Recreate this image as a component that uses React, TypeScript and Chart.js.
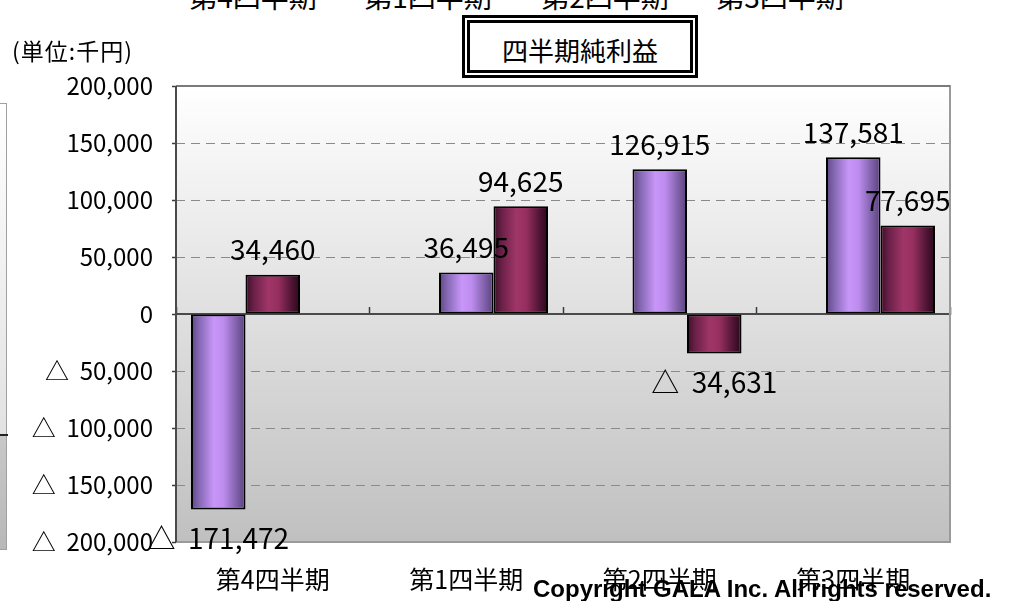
import { useEffect, useRef } from "react";
import { Chart, registerables } from "chart.js";

Chart.register(...registerables);

// ---- data ----
const categories = ["第4四半期", "第1四半期", "第2四半期", "第3四半期"];
const purpleValues = [-171472, 36495, 126915, 137581];
const maroonValues = [34460, 94625, -34631, 77695];
const yMin = -200000;
const yMax = 200000;
const yStep = 50000;
const topCutLabels = ["第4四半期", "第1四半期", "第2四半期", "第3四半期"];
const titleText = "四半期純利益";
const unitText = "(単位:千円)";
const copyrightText = "Copyright GALA Inc. All rights reserved.";

const JP = '"Noto Sans CJK JP", "Noto Sans", sans-serif';

const fmt = (n: number) => n.toLocaleString("en-US");
const signed = (n: number) => (n < 0 ? "△  " + fmt(-n) : fmt(n));

const purpleStops: [number, string][] = [
  [0, "#5e4680"],
  [0.15, "#8468b4"],
  [0.42, "#c896f8"],
  [0.6, "#bd8cee"],
  [0.85, "#7c5ea6"],
  [1, "#5a4278"],
];
const maroonStops: [number, string][] = [
  [0, "#3a0f26"],
  [0.15, "#6a2048"],
  [0.42, "#a03668"],
  [0.6, "#962f5f"],
  [0.85, "#4e1434"],
  [1, "#2a0818"],
];

const bgPlugin = {
  id: "plotBg",
  beforeDraw(chart: any) {
    const { ctx, chartArea: a } = chart;
    const g = ctx.createLinearGradient(0, a.top, 0, a.bottom);
    g.addColorStop(0, "#ffffff");
    g.addColorStop(1, "#c0c0c0");
    ctx.save();
    ctx.fillStyle = g;
    ctx.fillRect(a.left, a.top, a.right - a.left, a.bottom - a.top);
    ctx.restore();
  },
  beforeDatasetsDraw(chart: any) {
    const { ctx, chartArea: a } = chart;
    ctx.save();
    ctx.lineWidth = 2;
    ctx.strokeStyle = "#9a9a9a";
    ctx.beginPath();
    ctx.moveTo(a.left, a.top);
    ctx.lineTo(a.right, a.top);
    ctx.lineTo(a.right, a.bottom);
    ctx.lineTo(a.left, a.bottom);
    ctx.stroke();
    ctx.strokeStyle = "#7a7a7a";
    ctx.beginPath();
    ctx.moveTo(a.left, a.top);
    ctx.lineTo(a.right, a.top);
    ctx.stroke();
    ctx.strokeStyle = "#4a4a4a";
    ctx.beginPath();
    ctx.moveTo(a.left, a.top);
    ctx.lineTo(a.left, a.bottom);
    ctx.stroke();
    ctx.restore();
  },
};

const barPaintPlugin = {
  id: "barPaint",
  afterDatasetsDraw(chart: any) {
    const ctx = chart.ctx;
    const bw = 2;
    const labels: { text: string; x: number; y: number }[] = [];
    chart.data.datasets.forEach((ds: any, di: number) => {
      const meta = chart.getDatasetMeta(di);
      meta.data.forEach((el: any, i: number) => {
        const v = ds.data[i];
        if (v == null) return;
        const { x, y, base, width } = el.getProps(["x", "y", "base", "width"], true);
        const left = x - width / 2;
        const right = x + width / 2;
        const top = Math.min(y, base);
        const bottom = Math.max(y, base);
        const g = ctx.createLinearGradient(left, 0, right, 0);
        (ds.kind === "purple" ? purpleStops : maroonStops).forEach(([o, c]) => g.addColorStop(o, c));
        ctx.save();
        ctx.fillStyle = g;
        ctx.fillRect(left + bw, top + bw, width - 2 * bw, bottom - top - 2 * bw);
        ctx.restore();
        labels.push({ text: signed(v), x, y: v >= 0 ? y - 25 : y + 29 });
      });
    });
    ctx.save();
    ctx.font = `28px ${JP}`;
    ctx.fillStyle = "#000";
    ctx.textAlign = "center";
    ctx.textBaseline = "middle";
    labels.forEach((l) => ctx.fillText(l.text, l.x, l.y));
    ctx.restore();
  },
};

export default function App() {
  const ref = useRef<HTMLCanvasElement | null>(null);

  useEffect(() => {
    if (!ref.current) return;
    const pick = (arr: number[], keep: (i: number) => boolean) =>
      arr.map((v, i) => (keep(i) ? v : null));
    const common = {
      borderColor: "#000000",
      borderWidth: 2,
      borderSkipped: false,
      categoryPercentage: 0.845,
      barPercentage: 1,
    };
    const chart = new Chart(ref.current, {
      type: "bar",
      data: {
        labels: categories,
        datasets: [
          { ...common, label: "a0", kind: "purple", stack: "L", backgroundColor: "#a878d8", data: pick(purpleValues, (i) => i === 0) },
          { ...common, label: "a1", kind: "purple", stack: "C", backgroundColor: "#a878d8", data: pick(purpleValues, (i) => i !== 0) },
          { ...common, label: "b0", kind: "maroon", stack: "C", backgroundColor: "#802850", data: pick(maroonValues, (i) => i === 0) },
          { ...common, label: "b1", kind: "maroon", stack: "R", backgroundColor: "#802850", data: pick(maroonValues, (i) => i !== 0) },
        ] as any,
      },
      options: {
        responsive: false,
        animation: false,
        layout: { padding: { left: 0, right: 62, top: 86, bottom: 0 } },
        plugins: {
          legend: { display: false },
          tooltip: { enabled: false },
          title: { display: false },
        },
        scales: {
          x: {
            type: "category",
            position: "bottom",
            offset: true,
            grid: { display: false, drawTicks: false, tickLength: 0, offset: true },
            border: { display: false },
            ticks: {
              color: "#000",
              font: { size: 25, family: JP },
              padding: 22,
              maxRotation: 0,
              autoSkip: false,
            },
            afterFit: (s: any) => {
              s.height = 59;
            },
          },
          x2: {
            type: "category",
            axis: "x",
            position: { y: 0 },
            offset: true,
            grid: {
              display: true,
              drawOnChartArea: false,
              drawTicks: true,
              tickLength: -8,
              tickColor: "#3a3a3a",
              tickWidth: 1.5,
              offset: true,
            },
            border: { display: true, color: "#4a4a4a", width: 2 },
            ticks: { display: false },
          },
          y: {
            type: "linear",
            min: yMin,
            max: yMax,
            stacked: true,
            ticks: {
              stepSize: yStep,
              color: "#000",
              font: { size: 24, family: JP },
              padding: 19,
              callback: (v: any) => signed(Number(v)),
            },
            grid: {
              color: (c: any) => {
                const v = c.tick && c.tick.value;
                return v === 0 || v === yMax || v === yMin ? "rgba(0,0,0,0)" : "#8a8a8a";
              },
              lineWidth: 1,
              tickLength: 4,
              tickColor: "#3a3a3a",
              tickWidth: 1.5,
              borderDash: [9, 6],
            } as any,
            border: { display: false, dash: [9, 6] },
            afterFit: (s: any) => {
              s.width = 176;
            },
          },
        } as any,
      },
      plugins: [bgPlugin, barPaintPlugin],
    } as any);
    return () => chart.destroy();
  }, []);

  const topCenters = [253, 428, 605, 780];

  return (
    <div
      style={{
        position: "absolute",
        left: 0,
        top: 0,
        width: 1012,
        height: 601,
        overflow: "hidden",
        background: "#fff",
      }}
    >
      {topCutLabels.map((t, i) => (
        <div
          key={i}
          style={{
            position: "absolute",
            top: -18,
            left: topCenters[i] - 80,
            width: 160,
            textAlign: "center",
            fontFamily: JP,
            fontSize: 28,
            lineHeight: "28px",
            color: "#000",
            whiteSpace: "nowrap",
          }}
        >
          {t}
        </div>
      ))}
      <div
        style={{
          position: "absolute",
          left: 0,
          top: 103,
          width: 7,
          height: 447,
          boxSizing: "border-box",
          borderTop: "1px solid #a0a0a0",
          borderRight: "1px solid #a0a0a0",
          borderBottom: "1px solid #a0a0a0",
          background:
            "linear-gradient(to bottom, #ffffff 0%, #e2e2e2 74%, #c8c8c8 74.4%, #b8b8b8 100%)",
        }}
      />
      <div style={{ position: "absolute", left: 0, top: 434, width: 8, height: 2, background: "#222" }} />
      <canvas ref={ref} width={1012} height={601} style={{ position: "absolute", left: 0, top: 0, width: 1012, height: 601 }} />
      <div
        style={{
          position: "absolute",
          left: 12,
          top: 39,
          fontFamily: JP,
          fontSize: 23,
          lineHeight: "23px",
          letterSpacing: 1,
          color: "#000",
          whiteSpace: "nowrap",
        }}
      >
        {unitText}
      </div>
      <div
        style={{
          position: "absolute",
          left: 462,
          top: 15,
          width: 236,
          height: 63,
          boxSizing: "border-box",
          border: "8px double #000",
          background: "#fff",
          display: "flex",
          alignItems: "center",
          justifyContent: "center",
          paddingTop: 6,
          fontFamily: JP,
          fontSize: 26,
          color: "#000",
          whiteSpace: "nowrap",
        }}
      >
        {titleText}
      </div>
      <div
        style={{
          position: "absolute",
          left: 533,
          top: 577,
          fontFamily: '"Liberation Sans", Arial, sans-serif',
          fontWeight: "bold",
          fontSize: 24,
          lineHeight: "24px",
          color: "#000",
          whiteSpace: "nowrap",
        }}
      >
        {copyrightText}
      </div>
    </div>
  );
}
